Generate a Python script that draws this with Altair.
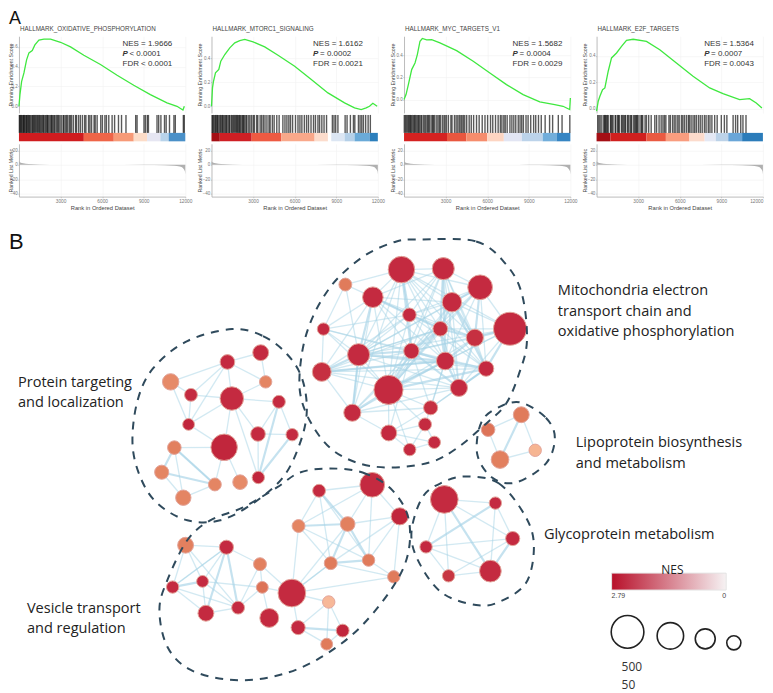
import math
import altair as alt
import pandas as pd

FONT = "Liberation Sans"
LABEL_FONT = "Open Sans"

# ---------- Panel A: GSEA plots ----------
titles = ["HALLMARK_OXIDATIVE_PHOSPHORYLATION", "HALLMARK_MTORC1_SIGNALING",
          "HALLMARK_MYC_TARGETS_V1", "HALLMARK_E2F_TARGETS"]
nes_text = ["NES = 1.9666", "NES = 1.6162", "NES = 1.5682", "NES = 1.5364"]
p_text = ["< 0.0001", "= 0.0002", "= 0.0004", "= 0.0007"]
fdr_text = ["FDR < 0.0001", "FDR = 0.0021", "FDR = 0.0029", "FDR = 0.0043"]
stat_x = [104, 102, 109, 108]
es_domains = [[-0.067, 0.708], [-0.056, 0.583], [-0.12, 0.57], [-0.033, 0.55]]
es_ticks = [[0, 0.2, 0.4, 0.6], [0, 0.2, 0.4], [0, 0.2, 0.4], [0, 0.2, 0.4]]

es_rank = [
    [0, 72, 190, 360, 550, 720, 960, 1150, 1440, 1800, 2280, 3000, 3720, 4680, 5880, 7080, 8280, 9480, 10680, 11400, 11830, 11930],
    [0, 72, 144, 288, 528, 672, 960, 1320, 1680, 2040, 2400, 3000, 3840, 4800, 6000, 7200, 8400, 9600, 10320, 10800, 11160, 11400, 11640, 11950],
    [0, 144, 312, 552, 792, 960, 1152, 1320, 1632, 1992, 2592, 3792, 4992, 6192, 7392, 8592, 9792, 10872, 11472, 11952, 12000],
    [0, 120, 240, 432, 600, 840, 1080, 1440, 1800, 2160, 2640, 3600, 4560, 5760, 6960, 8160, 9120, 10320, 11040, 11520, 11930],
]
es_value = [
    [0, .118, .25, .337, .47, .54, .563, .62, .668, .678, .678, .647, .6, .516, .422, .314, .213, .118, .034, 0, -.037, 0],
    [0, .153, .208, .278, .306, .375, .431, .486, .528, .547, .556, .536, .494, .425, .333, .222, .111, .028, -.014, -.028, -.014, 0, .025, 0],
    [0, .045, .135, .27, .33, .405, .525, .55, .537, .54, .51, .44, .345, .24, .135, .045, -.02, -.045, -.06, -.09, .015],
    [-.02, .056, .094, .144, .157, .284, .385, .423, .473, .519, .527, .511, .448, .347, .246, .157, .114, .068, .076, .043, .005],
]

hits = [
    [30,70,120,180,230,300,340,390,450,520,560,620,690,740,800,870,950,1000,1060,1130,1190,1270,1340,1400,1480,1530,1610,1690,1760,1810,1900,1980,2050,2090,2170,2260,2350,2380,2460,2540,2600,2700,2790,2850,2950,3050,3180,3230,3330,3420,3500,3620,3700,3790,3920,4080,4150,4300,4430,4580,4740,4830,5020,5120,5240,5420,5500,5640,5900,6020,6200,6310,6480,6720,6900,7180,7400,7720,8420,8520,9020,9120,9260,9340,9960,10080,10240,10500,10620,10860,11180,11280,11860,11930],
    [40,90,150,240,290,360,430,470,560,650,700,790,830,910,990,1060,1110,1200,1280,1330,1440,1500,1590,1650,1740,1800,1870,1930,2010,2060,2130,2220,2280,2330,2410,2500,2560,2690,2780,2900,3020,3100,3260,3340,3510,3620,3740,3860,4000,4150,4230,4390,4520,4710,4880,5150,5300,5440,5580,5700,5850,6060,6240,6380,6520,6700,6860,7000,7180,7360,7500,7680,7800,7960,8120,8300,8720,8840,8960,9120,9640,9780,10020,10240,10340,10600,10720,10840,10960,11120,11300,11460],
    [20,100,170,260,330,400,470,520,610,700,760,830,920,1000,1060,1140,1230,1290,1410,1500,1580,1680,1760,1830,1950,2050,2110,2190,2320,2440,2540,2620,2760,2880,2960,3060,3200,3380,3460,3640,3760,3880,3990,4100,4180,4280,4380,4520,4700,4850,5020,5230,5420,5640,5840,6030,6240,6400,6600,6790,6950,7060,7200,7300,7440,7640,7780,7920,8060,8240,8370,8490,8610,8800,8950,9140,9350,9500,9700,9900,10180,10500,10720,11130,11400,11960],
    [80,170,260,380,520,580,640,700,780,840,1000,1050,1120,1190,1340,1390,1520,1580,1640,1790,1860,1950,2040,2090,2230,2290,2410,2480,2540,2680,2760,2830,2900,2950,3060,3200,3260,3330,3500,3600,3760,3940,4200,4330,4510,4660,4790,4900,5000,5220,5320,5480,5600,5720,5860,5960,6120,6220,6340,6480,6620,6700,6820,6960,7080,7200,7350,7480,7620,7780,7900,8060,8180,8320,8520,8700,9000,9220,9400,9850,10030,10180,10400,10560,10780],
]

band_edges = [
    [0, 4680, 6840, 8280, 9240, 10200, 10800, 12000],
    [0, 600, 2900, 5040, 7440, 8400, 8640, 9600, 10320, 11400, 12000],
    [0, 3100, 4500, 6000, 7200, 8500, 10000, 11000, 12000],
    [0, 1000, 3600, 5000, 6700, 7800, 8600, 9500, 10500, 12000],
]
band_colors = [
    ["#d01c1f", "#ef6548", "#f79a77", "#fcdcc8", "#e6e6f2", "#b8d3ea", "#4a90c8"],
    ["#a50f15", "#cf1f24", "#ee5a42", "#f9a88a", "#fcdccc", "#ffffff", "#dce6f3", "#b5d0e8", "#6aaad8", "#2c7fbc"],
    ["#d52221", "#e9573f", "#f68d6d", "#fdd5c2", "#e2e5f3", "#bcd3ea", "#72aedb", "#3685c3"],
    ["#a50f15", "#d0201f", "#ea5a42", "#f99d7f", "#fcdbcc", "#e4e8f4", "#bcd2e8", "#6aa6d8", "#2b7cba"],
]

metric_rank = [0, 100, 300, 700, 1500, 3000, 6000, 9000, 10500, 11200, 11600, 11850, 11970, 12000]
metric_value = [5, 3, 2, 1.2, .5, .15, 0, -.2, -.6, -1.2, -2.5, -5, -9, -13]

X_DOM = alt.Scale(domain=[0, 12000], nice=False, zero=False)
PW, ES_H, STRIP_H, MET_H = 167, 77, 26.5, 53
GRID = "#f1f1f1"


def stat(txt, x, y, size=8, color="#333", **kw):
    return alt.Chart(pd.DataFrame({"t": [txt]})).mark_text(
        font=FONT, fontSize=size, align="left", baseline="middle", color=color, **kw
    ).encode(x=alt.value(x), y=alt.value(y), text="t:N")


def es_panel(i):
    df = pd.DataFrame({"rank": es_rank[i], "es": es_value[i]})
    title_x = -5.5 if i == 0 else -9
    line = alt.Chart(df).mark_line(color="#3fe83f", strokeWidth=1.3).encode(
        x=alt.X("rank:Q", scale=X_DOM, axis=alt.Axis(
            title=None, labels=False, ticks=False, domain=False, grid=True, gridColor=GRID,
            gridWidth=0.6, values=[3000, 6000, 9000, 12000])),
        y=alt.Y("es:Q", scale=alt.Scale(domain=es_domains[i], nice=False, zero=False), axis=alt.Axis(
            values=es_ticks[i], format=".1f", labelFontSize=4.5, labelColor="#777", labelFont=FONT,
            labelPadding=0.5, tickSize=1.2, tickColor="#999", tickWidth=0.5, domainColor="#aaa",
            domainWidth=0.8, grid=True, gridColor=GRID, gridWidth=0.6,
            title="Running Enrichment Score", titleFont=FONT, titleFontSize=5.3,
            titleFontWeight="normal", titleColor="#444", titleX=title_x, titleY=ES_H / 2)),
    )
    sx = stat_x[i]
    layers = [line,
              stat(titles[i], 1, -7, size=6.3, color="#444"),
              stat(nes_text[i], sx, 7.5),
              stat("P", sx, 17.5, fontStyle="italic", fontWeight="bold"),
              stat(p_text[i], sx + 7, 17.5),
              stat(fdr_text[i], sx, 28)]
    if i == 0:
        layers.append(alt.Chart(pd.DataFrame({"t": ["A"]})).mark_text(
            font=FONT, fontSize=18, align="left", baseline="alphabetic", color="#111"
        ).encode(x=alt.value(-10), y=alt.value(-12.5), text="t:N"))
    return alt.layer(*layers).properties(width=PW, height=ES_H)


def strip_panel(i):
    edges = band_edges[i]
    bands = pd.DataFrame({"a": edges[:-1], "b": edges[1:], "c": band_colors[i]})
    ys = alt.Scale(domain=[0, 1], nice=False, zero=False)
    rects = alt.Chart(bands).mark_rect().encode(
        x=alt.X("a:Q", scale=X_DOM, axis=None), x2="b:Q",
        y=alt.datum(0, scale=ys, axis=None), y2=alt.datum(0.32),
        color=alt.Color("c:N", scale=None),
    )
    rules = alt.Chart(pd.DataFrame({"rank": hits[i]})).mark_rule(
        color="#000", strokeWidth=1.4, opacity=0.65
    ).encode(
        x=alt.X("rank:Q", scale=X_DOM, axis=None),
        y=alt.datum(0.32, scale=ys, axis=None), y2=alt.datum(1),
    )
    return alt.layer(rects, rules).properties(width=PW, height=STRIP_H)


def metric_panel(i):
    df = pd.DataFrame({"rank": metric_rank, "m": metric_value})
    title_x = -5.5 if i == 0 else -9
    return alt.Chart(df).mark_area(color="#b0b0b0", interpolate="monotone").encode(
        x=alt.X("rank:Q", scale=X_DOM, axis=alt.Axis(
            values=[3000, 6000, 9000, 12000], format="d", labelFontSize=4.8, labelColor="#777",
            labelFont=FONT, labelPadding=1, labelFlush=(i == 3), tickSize=1.2, tickColor="#999", tickWidth=0.5,
            domainColor="#aaa", domainWidth=0.8, grid=True, gridColor=GRID, gridWidth=0.6,
            title="Rank in Ordered Dataset", titleFont=FONT, titleFontSize=5.8, titleFontWeight="normal",
            titleColor="#444", titlePadding=1)),
        y=alt.Y("m:Q", scale=alt.Scale(domain=[-44, 29], nice=False, zero=False), axis=alt.Axis(
            values=[-40, -20, 0, 20], format="d", labelFontSize=4.5, labelColor="#777", labelFont=FONT,
            labelPadding=0.5, tickSize=1.2, tickColor="#999", tickWidth=0.5, domainColor="#aaa",
            domainWidth=0.8, grid=True, gridColor=GRID, gridWidth=0.6,
            title="Ranked List Metric", titleFont=FONT, titleFontSize=5.3, titleFontWeight="normal",
            titleColor="#444", titleX=title_x, titleY=MET_H / 2)),
        y2=alt.datum(0),
    ).properties(width=PW, height=MET_H)


cells = [es_panel(i) for i in range(4)] + [strip_panel(i) for i in range(4)] + [metric_panel(i) for i in range(4)]
grid = alt.concat(*cells, columns=4, spacing={"row": 2, "column": 26.3}, bounds="flush", align="each")

# ---------- Panel B: enrichment map ----------
# (x, y, radius, NES)
mito = [(402, 268.3, 15, 2.5), (444, 267.3, 12.5, 2.5), (481, 286, 14, 2.5), (452.7, 301, 11, 2.5),
        (511, 327.7, 18.7, 2.5), (373.3, 296, 11.7, 2.5), (345.7, 283.3, 7.3, 1.6), (410, 313.7, 7.7, 2.5),
        (441, 327.7, 8.3, 2.45), (475.7, 336.7, 9.7, 2.45), (323.7, 328, 7, 2.5), (359, 353.7, 12.5, 2.5),
        (412, 350, 8.7, 2.5), (446, 360, 10, 2.5), (487, 367.7, 8.7, 2.5), (322, 371, 10.7, 2.45),
        (389, 389, 16.5, 2.5), (459.7, 387, 9.7, 2.5), (352.7, 412, 9.7, 2.5), (431.3, 407, 8, 2.45),
        (425.7, 423.7, 7.3, 2.5), (389.3, 432.3, 9, 2.5), (435, 441.7, 7, 2.5), (410.3, 449, 7, 2.5)]
lipo = [(522.3, 414, 9, 1.6), (489, 429, 7.7, 1.7), (536.3, 449.7, 7, 1.0), (501, 459, 10, 1.55)]
prot = [(260.7, 351.7, 9, 2.5), (227.3, 361, 8.3, 2.5), (170.3, 381, 9.3, 1.45), (265.7, 381, 7, 1.5),
        (190.7, 394, 7.3, 2.5), (231.7, 397.7, 13.3, 2.5), (279, 401, 7.3, 2.5), (188.3, 423.7, 6.7, 2.55),
        (258, 433.3, 8.3, 2.5), (292.3, 434, 7, 2.5), (174, 447, 7.7, 1.55), (224, 446.7, 15, 2.55),
        (161.3, 471.7, 8, 1.5), (214.7, 484, 7.3, 1.5), (240, 481.7, 8.3, 1.45), (258.3, 477, 7, 2.55),
        (183, 497.3, 8.7, 1.5)]
vesi = [(372.7, 484.3, 14, 2.5), (319.3, 490.3, 7.3, 2.5), (400.3, 516, 9.7, 2.55), (298.7, 525.7, 7.3, 1.5),
        (348, 523.7, 8.3, 1.55), (185.3, 545, 9, 1.55), (226.3, 547, 8, 2.5), (260, 564, 7.3, 1.55),
        (331, 563, 7.3, 1.6), (369, 560, 7, 1.6), (394.3, 576.7, 7, 1.6), (172.3, 587, 7, 2.5),
        (202.3, 581.3, 6.7, 2.5), (262.3, 587.3, 6.7, 1.7), (292, 593, 15.7, 2.5), (329, 602, 7, 0.95),
        (205.7, 613.3, 9, 2.5), (238, 607.7, 7.3, 2.5), (269.3, 618, 10.7, 2.5), (298.3, 627.7, 8, 2.5),
        (343, 630.7, 7.3, 2.55), (327, 644.3, 6.7, 1.6)]
glyc = [(445, 499, 15.7, 2.5), (496.3, 502.7, 7, 2.5), (513.7, 538.3, 8, 2.5), (426.7, 546.7, 7, 2.5),
        (449.3, 575.7, 7, 2.4), (491.3, 571, 12.3, 2.5)]

mito_thick = ("6-12 12-19 17-19 17-14 17-13 17-9 1-8 1-13 2-9 2-14 4-10 4-15 3-10 5-10 5-15 10-14 13-14 12-13 "
              "12-14 16-12 16-14 6-8 9-14 9-10 8-9 4-9 3-4 13-9 17-15 14-15 18-14 18-15 18-10 13-18")
mito_thin = ("1-2 1-3 1-4 1-6 1-7 1-9 1-10 1-12 1-14 1-17 2-3 2-4 2-6 2-8 2-10 2-13 2-15 2-17 2-18 3-5 3-9 3-13 "
             "3-14 3-15 3-8 4-5 4-6 4-8 4-13 4-14 4-17 4-18 5-9 5-13 5-14 5-18 6-7 6-9 6-10 6-13 6-14 6-16 6-17 "
             "6-19 7-12 7-11 8-10 8-12 8-13 8-14 8-15 8-17 8-16 9-12 9-15 9-18 9-16 9-19 10-13 10-15 10-17 11-16 "
             "11-12 11-17 11-13 11-6 11-14 11-8 12-15 12-17 12-18 12-19 12-9 13-15 13-16 13-19 13-20 14-16 14-19 "
             "14-20 15-16 15-18 15-20 16-19 16-17 16-18 17-18 17-20 17-21 17-22 17-24 18-19 18-20 19-20 19-22 "
             "20-21 20-22 20-14 21-22 21-23 22-24 22-23 23-24 24-21 22-13 2-12 3-12 3-17 5-17 5-12 1-19 4-12 1-15 1-5")
prot_thick = "11-14 13-14 7-16 10-16 11-13"
prot_thin = ("2-1 2-3 2-5 2-8 2-6 1-4 2-4 5-3 5-6 5-8 6-8 6-7 6-12 6-9 6-16 7-9 7-10 9-10 9-16 12-11 12-14 12-15 "
             "11-14 11-17 13-17 14-17 8-12 3-8 6-4")
vesi_thick = "4-5 5-10 9-10 20-21 7-18 12-13 5-9 7-17 2-5"
vesi_thin = ("1-2 1-3 1-5 1-10 1-4 2-4 2-9 2-10 3-5 3-9 3-10 3-11 4-9 4-10 4-15 5-15 9-11 9-15 10-11 11-15 15-8 "
             "15-14 15-16 15-20 16-20 16-21 16-22 20-22 21-22 6-7 6-12 6-13 7-12 7-13 12-17 12-18 13-17 13-18 "
             "17-18 6-18 14-8 14-18 14-19 8-18 14-13 7-8 15-9 12-7")
glyc_thick = "2-4 1-6 3-6"
glyc_thin = "1-2 1-3 1-4 1-5 2-3 2-6 3-4 3-5 4-5 4-6 5-6"
lipo_thick = "1-4"
lipo_thin = "1-2 1-3 2-4 3-4"

hull_mito = [(420, 238), (477, 240), (507, 263), (523, 293), (528, 340), (520, 373), (507, 403), (487, 423),
             (457, 448), (430, 462), (390, 467), (357, 462), (330, 447), (310, 420), (300, 390), (302, 353),
             (310, 323), (323, 297), (340, 275), (367, 253), (397, 240)]
hull_prot = [(232, 328), (263, 335), (287, 353), (302, 377), (307, 410), (300, 443), (283, 477), (253, 503),
             (220, 520), (187, 520), (157, 503), (140, 477), (132, 443), (137, 400), (153, 367), (187, 340)]
hull_lipo = [(523, 402), (547, 417), (556, 437), (547, 463), (517, 482), (493, 477), (478, 453), (483, 420), (503, 405)]
hull_glyc = [(467, 476), (500, 483), (527, 517), (535, 547), (527, 583), (500, 602), (477, 605), (443, 593),
             (420, 563), (412, 533), (423, 497), (443, 482)]
hull_vesi = [(330, 468), (363, 472), (393, 490), (410, 523), (403, 570), (363, 625), (317, 660), (273, 677),
             (230, 680), (190, 670), (167, 647), (159, 610), (167, 580), (187, 540), (210, 520), (243, 507),
             (277, 487), (300, 472)]

labels = [("Mitochondria electron", 559, 290), ("transport chain and", 559, 311), ("oxidative phosphorylation", 559, 331),
          ("Protein targeting", 17, 382), ("and localization", 17, 402),
          ("Lipoprotein biosynthesis", 577, 442), ("and metabolism", 577, 463),
          ("Glycoprotein metabolism", 545, 535),
          ("Vesicle transport", 26, 609), ("and regulation", 26, 629)]

legend_r = [18.5, 15, 11.3, 8]
legend_x = [629, 672, 707, 735.7]
legend_y = [632, 636, 639, 643]
legend_txt = [("500", 623, 667), ("50", 623, 685)]

clusters = [(mito, mito_thick, mito_thin), (lipo, lipo_thick, lipo_thin), (prot, prot_thick, prot_thin),
            (vesi, vesi_thick, vesi_thin), (glyc, glyc_thick, glyc_thin)]

node_rows, edge_rows = [], []
for nodes, thick, thin in clusters:
    for x, y, r, n in nodes:
        node_rows.append({"x": x, "y": y, "size": math.pi * r * r, "nes": n})
    for spec, w, op in ((thin, 1.3, 0.5), (thick, 2.2, 0.65)):
        for pair in spec.split():
            a, b = [int(v) - 1 for v in pair.split("-")]
            edge_rows.append({"x": nodes[a][0], "y": nodes[a][1], "x2": nodes[b][0], "y2": nodes[b][1], "w": w, "op": op})

hull_rows = []
for name, hull in (("m", hull_mito), ("p", hull_prot), ("l", hull_lipo), ("g", hull_glyc), ("v", hull_vesi)):
    for i, (x, y) in enumerate(hull):
        hull_rows.append({"c": name, "i": i, "x": x, "y": y})

SX = alt.Scale(domain=[18, 765], nice=False, zero=False)
SY = alt.Scale(domain=[685, 215], nice=False, zero=False)
X = alt.X("x:Q", scale=SX, axis=None)
Y = alt.Y("y:Q", scale=SY, axis=None)

edges = alt.Chart(pd.DataFrame(edge_rows)).mark_rule(color="#a6d3e6").encode(
    x=X, y=Y, x2="x2:Q", y2="y2:Q",
    strokeWidth=alt.StrokeWidth("w:Q", scale=None), opacity=alt.Opacity("op:Q", scale=None))
nodes_l = alt.Chart(pd.DataFrame(node_rows)).mark_point(filled=True, opacity=1, stroke="#e2a49a", strokeWidth=1).encode(
    x=X, y=Y, size=alt.Size("size:Q", scale=None),
    fill=alt.Fill("nes:Q", legend=None, scale=alt.Scale(
        domain=[0, 1, 1.6, 2.5, 2.79], range=["#f7f3f3", "#f6b592", "#e07b5b", "#c42a40", "#b5102a"])))
hulls = alt.Chart(pd.DataFrame(hull_rows)).mark_line(
    interpolate="cardinal-closed", strokeDash=[8, 7], strokeWidth=2, color="#2f4a5c"
).encode(x=X, y=Y, detail="c:N", order="i:Q")
texts = alt.Chart(pd.DataFrame(labels, columns=["t", "x", "y"])).mark_text(
    font=LABEL_FONT, fontSize=14.6, align="left", baseline="middle", color="#222"
).encode(x=X, y=Y, text="t:N")
letter_b = alt.Chart(pd.DataFrame({"t": ["B"], "x": [8], "y": [248]})).mark_text(
    font=FONT, fontSize=22, align="left", baseline="alphabetic", color="#111"
).encode(x=X, y=Y, text="t:N")
grad_bar = alt.Chart(pd.DataFrame({"x": [613], "x2": [728], "y": [573], "y2": [590]})).mark_rect(
    color=alt.LinearGradient(gradient="linear", x1=0, x2=1, y1=0, y2=0, stops=[
        alt.GradientStop(offset=0, color="#b8102a"), alt.GradientStop(offset=1, color="#f6f2f3")]),
    stroke="#e4e4e4", strokeWidth=1,
).encode(x=X, x2="x2:Q", y=Y, y2="y2:Q")
nes_title = alt.Chart(pd.DataFrame({"t": ["NES"], "x": [674], "y": [570]})).mark_text(
    font=LABEL_FONT, fontSize=12, color="#222", baseline="middle").encode(x=X, y=Y, text="t:N")
grad_lab = alt.Chart(pd.DataFrame({"t": ["2.79", "0"], "x": [613, 728], "y": [596, 596], "a": ["left", "right"]}))
grad_l = grad_lab.transform_filter("datum.a == 'left'").mark_text(
    font=FONT, fontSize=7, align="left", color="#444").encode(x=X, y=Y, text="t:N")
grad_r = grad_lab.transform_filter("datum.a == 'right'").mark_text(
    font=FONT, fontSize=7, align="right", color="#444").encode(x=X, y=Y, text="t:N")
size_df = pd.DataFrame({"x": legend_x, "y": legend_y, "size": [math.pi * r * r for r in legend_r]})
size_leg = alt.Chart(size_df).mark_point(filled=False, stroke="#222", strokeWidth=1.6, opacity=1).encode(
    x=X, y=Y, size=alt.Size("size:Q", scale=None))
size_txt = alt.Chart(pd.DataFrame(legend_txt, columns=["t", "x", "y"])).mark_text(
    font=LABEL_FONT, fontSize=12, align="left", baseline="middle", color="#333").encode(x=X, y=Y, text="t:N")

network = alt.layer(edges, nodes_l, hulls, texts, letter_b, grad_bar, nes_title, grad_l, grad_r, size_leg, size_txt,
                    ).resolve_scale(size="independent").properties(width=747, height=470)

chart = alt.vconcat(grid, network, spacing=6).properties(padding=0, background="white").configure_view(stroke=None)
chart.save("out.html", embed_options={"renderer": "svg", "actions": False})
